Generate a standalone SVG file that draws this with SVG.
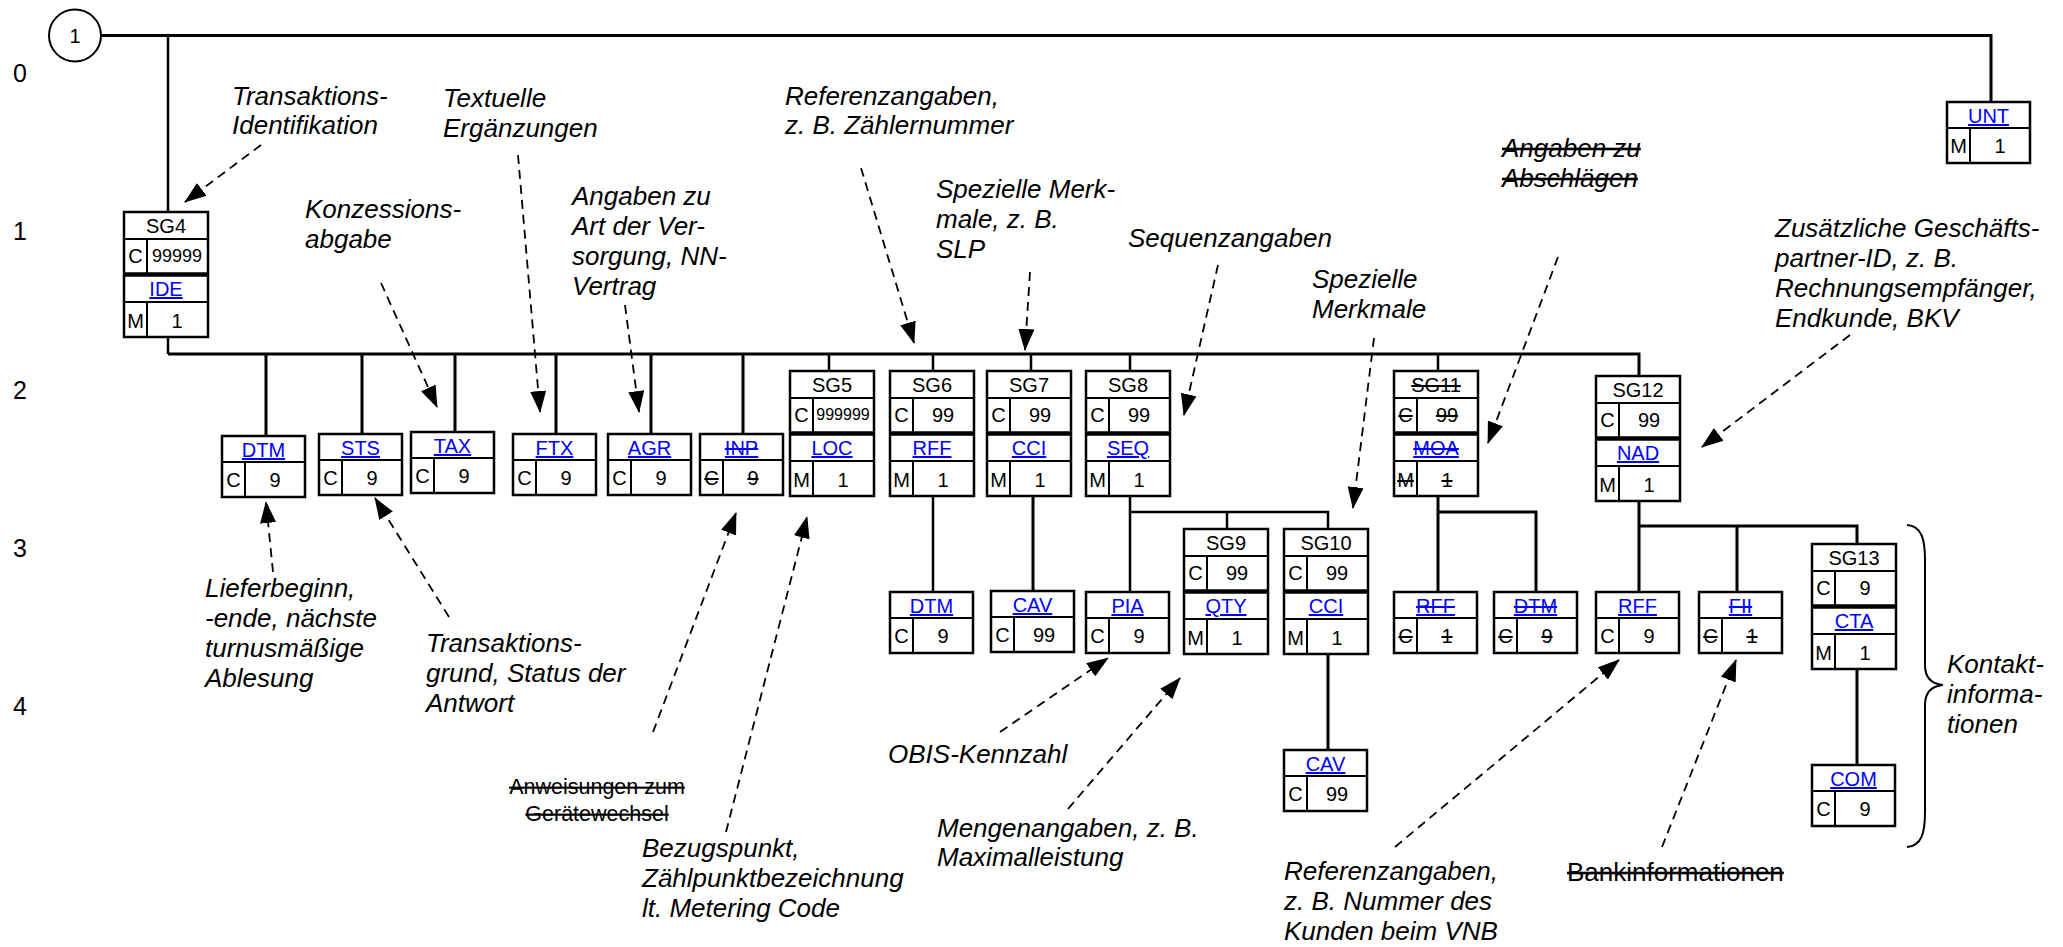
<svg xmlns="http://www.w3.org/2000/svg" xmlns:xlink="http://www.w3.org/1999/xlink" width="2063" height="947" viewBox="0 0 2063 947">
<style>
text{font-family:"Liberation Sans",Arial,sans-serif;fill:#000}
.lbl{font-size:26px;font-style:italic}
.up{font-size:26px}
.small{font-size:21.5px;text-anchor:middle}
.row{font-size:25px}
.bt{font-size:20px;text-anchor:middle}
.n18{font-size:18px}
.n16{font-size:16px}
.seg{fill:#0000ff;text-decoration:underline}
.st{text-decoration:line-through}
.segst{fill:#0000ff;text-decoration:underline line-through}
.conn{stroke:#000;stroke-width:3;fill:none}
.conn2{stroke:#000;stroke-width:2.5;fill:none}
.dash{stroke:#000;stroke-width:1.8;fill:none;stroke-dasharray:9 6}
.bx{stroke:#000;stroke-width:2.5;fill:#fff}
.bl{stroke:#000;stroke-width:2;fill:none}
.thick{stroke:#000;stroke-width:4.5;fill:none}
</style>
<defs>
<marker id="ah" markerWidth="22" markerHeight="16" refX="21" refY="8" orient="auto" markerUnits="userSpaceOnUse"><path d="M0,0 L22,8 L0,16 z" fill="#000"/></marker>
<g id="seg"><rect class="bx" x="0" y="0" width="83" height="61"/><path class="bl" d="M0,26 H83 M23,26 V61"/></g>
<g id="grp"><rect class="bx" x="0" y="0" width="84" height="125"/><path class="bl" d="M0,27 H84 M23,27 V61 M0,90 H84 M23,90 V125"/><path class="thick" d="M0,62.5 H84"/></g>
</defs>
<rect width="2063" height="947" fill="#fff"/>

<g id="connectors">
<path class="conn" d="M101,35.5 H1991 V102"/>
<path class="conn2" d="M168,36 V212"/>
<path class="conn2" d="M168,337 V354"/>
<path class="conn" d="M168,354 H1639 V376"/>
<path class="conn" d="M266,354 V436 M362,354 V434 M455,354 V432 M556,354 V434 M651,354 V434 M743,354 V434"/>
<path class="conn2" d="M829,354 V371 M933,354 V371 M1031,354 V371 M1130,354 V371 M1438,354 V371"/>
<path class="conn2" d="M933,496 V592"/>
<path class="conn" d="M1033,496 V591"/>
<path class="conn2" d="M1130,496 V592 M1130,512 H1328 V529 M1227,512 V529"/>
<path class="conn" d="M1328,654 V750"/>
<path class="conn" d="M1438,496 V592 M1438,512 H1536 V592"/>
<path class="conn" d="M1639,501 V592 M1639,526 H1857 V544 M1737,526 V592"/>
<path class="conn" d="M1857,669 V765"/>
<path d="M1907,525 C1922,526 1925,540 1925,560 V665 C1925,678 1932,684 1943,685 C1932,686 1925,692 1925,705 V812 C1925,832 1922,846 1907,847" stroke="#000" stroke-width="2" fill="none"/>
<g id="arrows">
<path class="dash" marker-end="url(#ah)" d="M261,145 L185,202"/>
<path class="dash" marker-end="url(#ah)" d="M381,283 L437,407"/>
<path class="dash" marker-end="url(#ah)" d="M518,155 L540,412"/>
<path class="dash" marker-end="url(#ah)" d="M625,305 L639,412"/>
<path class="dash" marker-end="url(#ah)" d="M861,168 L914,343"/>
<path class="dash" marker-end="url(#ah)" d="M1030,272 L1025,350"/>
<path class="dash" marker-end="url(#ah)" d="M1218,265 L1184,415"/>
<path class="dash" marker-end="url(#ah)" d="M1374,338 L1353,508"/>
<path class="dash" marker-end="url(#ah)" d="M1558,257 L1488,443"/>
<path class="dash" marker-end="url(#ah)" d="M1850,335 L1702,447"/>
<path class="dash" marker-end="url(#ah)" d="M273,572 L266,502"/>
<path class="dash" marker-end="url(#ah)" d="M449,617 L375,498"/>
<path class="dash" marker-end="url(#ah)" d="M653,732 L736,513"/>
<path class="dash" marker-end="url(#ah)" d="M726,832 L807,517"/>
<path class="dash" marker-end="url(#ah)" d="M1000,732 L1108,658"/>
<path class="dash" marker-end="url(#ah)" d="M1068,809 L1180,678"/>
<path class="dash" marker-end="url(#ah)" d="M1395,847 L1619,660"/>
<path class="dash" marker-end="url(#ah)" d="M1662,847 L1736,660"/>
</g>
</g>

<g id="rows">
<text class="row" x="13" y="82">0</text>
<text class="row" x="13" y="240">1</text>
<text class="row" x="13" y="399">2</text>
<text class="row" x="13" y="557">3</text>
<text class="row" x="13" y="715">4</text>
</g>

<g id="start"><circle cx="75" cy="35.5" r="26" fill="#fff" stroke="#000" stroke-width="2"/><text class="bt" x="75" y="43">1</text></g>

<g id="UNT" transform="translate(1947,102)"><use xlink:href="#seg"/><text class="bt seg" x="41.5" y="21">UNT</text><text class="bt" x="11.5" y="51">M</text><text class="bt" x="53" y="51">1</text></g>

<g id="SG4" transform="translate(124,212)"><use xlink:href="#grp"/><text class="bt" x="42" y="21">SG4</text><text class="bt" x="11.5" y="51">C</text><text class="bt n18" x="53" y="50">99999</text><text class="bt seg" x="42" y="84">IDE</text><text class="bt" x="11.5" y="116">M</text><text class="bt" x="53" y="116">1</text></g>

<g id="DTM1" transform="translate(222,436)"><use xlink:href="#seg"/><text class="bt seg" x="41.5" y="21">DTM</text><text class="bt" x="11.5" y="51">C</text><text class="bt" x="53" y="51">9</text></g>
<g id="STS" transform="translate(319,434)"><use xlink:href="#seg"/><text class="bt seg" x="41.5" y="21">STS</text><text class="bt" x="11.5" y="51">C</text><text class="bt" x="53" y="51">9</text></g>
<g id="TAX" transform="translate(411,432)"><use xlink:href="#seg"/><text class="bt seg" x="41.5" y="21">TAX</text><text class="bt" x="11.5" y="51">C</text><text class="bt" x="53" y="51">9</text></g>
<g id="FTX" transform="translate(513,434)"><use xlink:href="#seg"/><text class="bt seg" x="41.5" y="21">FTX</text><text class="bt" x="11.5" y="51">C</text><text class="bt" x="53" y="51">9</text></g>
<g id="AGR" transform="translate(608,434)"><use xlink:href="#seg"/><text class="bt seg" x="41.5" y="21">AGR</text><text class="bt" x="11.5" y="51">C</text><text class="bt" x="53" y="51">9</text></g>
<g id="INP" transform="translate(700,434)"><use xlink:href="#seg"/><text class="bt segst" x="41.5" y="21">INP</text><text class="bt st" x="11.5" y="51">C</text><text class="bt st" x="53" y="51">9</text></g>

<g id="SG5" transform="translate(790,371)"><use xlink:href="#grp"/><text class="bt" x="42" y="21">SG5</text><text class="bt" x="11.5" y="51">C</text><text class="bt n16" x="53" y="49">999999</text><text class="bt seg" x="42" y="84">LOC</text><text class="bt" x="11.5" y="116">M</text><text class="bt" x="53" y="116">1</text></g>
<g id="SG6" transform="translate(890,371)"><use xlink:href="#grp"/><text class="bt" x="42" y="21">SG6</text><text class="bt" x="11.5" y="51">C</text><text class="bt" x="53" y="51">99</text><text class="bt seg" x="42" y="84">RFF</text><text class="bt" x="11.5" y="116">M</text><text class="bt" x="53" y="116">1</text></g>
<g id="SG7" transform="translate(987,371)"><use xlink:href="#grp"/><text class="bt" x="42" y="21">SG7</text><text class="bt" x="11.5" y="51">C</text><text class="bt" x="53" y="51">99</text><text class="bt seg" x="42" y="84">CCI</text><text class="bt" x="11.5" y="116">M</text><text class="bt" x="53" y="116">1</text></g>
<g id="SG8" transform="translate(1086,371)"><use xlink:href="#grp"/><text class="bt" x="42" y="21">SG8</text><text class="bt" x="11.5" y="51">C</text><text class="bt" x="53" y="51">99</text><text class="bt seg" x="42" y="84">SEQ</text><text class="bt" x="11.5" y="116">M</text><text class="bt" x="53" y="116">1</text></g>
<g id="SG11" transform="translate(1394,371)"><use xlink:href="#grp"/><text class="bt st" x="42" y="21">SG11</text><text class="bt st" x="11.5" y="51">C</text><text class="bt st" x="53" y="51">99</text><text class="bt segst" x="42" y="84">MOA</text><text class="bt st" x="11.5" y="116">M</text><text class="bt st" x="53" y="116">1</text></g>
<g id="SG12" transform="translate(1596,376)"><use xlink:href="#grp"/><text class="bt" x="42" y="21">SG12</text><text class="bt" x="11.5" y="51">C</text><text class="bt" x="53" y="51">99</text><text class="bt seg" x="42" y="84">NAD</text><text class="bt" x="11.5" y="116">M</text><text class="bt" x="53" y="116">1</text></g>

<g id="DTM2" transform="translate(890,592)"><use xlink:href="#seg"/><text class="bt seg" x="41.5" y="21">DTM</text><text class="bt" x="11.5" y="51">C</text><text class="bt" x="53" y="51">9</text></g>
<g id="CAV1" transform="translate(991,591)"><use xlink:href="#seg"/><text class="bt seg" x="41.5" y="21">CAV</text><text class="bt" x="11.5" y="51">C</text><text class="bt" x="53" y="51">99</text></g>
<g id="PIA" transform="translate(1086,592)"><use xlink:href="#seg"/><text class="bt seg" x="41.5" y="21">PIA</text><text class="bt" x="11.5" y="51">C</text><text class="bt" x="53" y="51">9</text></g>
<g id="SG9" transform="translate(1184,529)"><use xlink:href="#grp"/><text class="bt" x="42" y="21">SG9</text><text class="bt" x="11.5" y="51">C</text><text class="bt" x="53" y="51">99</text><text class="bt seg" x="42" y="84">QTY</text><text class="bt" x="11.5" y="116">M</text><text class="bt" x="53" y="116">1</text></g>
<g id="SG10" transform="translate(1284,529)"><use xlink:href="#grp"/><text class="bt" x="42" y="21">SG10</text><text class="bt" x="11.5" y="51">C</text><text class="bt" x="53" y="51">99</text><text class="bt seg" x="42" y="84">CCI</text><text class="bt" x="11.5" y="116">M</text><text class="bt" x="53" y="116">1</text></g>
<g id="CAV2" transform="translate(1284,750)"><use xlink:href="#seg"/><text class="bt seg" x="41.5" y="21">CAV</text><text class="bt" x="11.5" y="51">C</text><text class="bt" x="53" y="51">99</text></g>
<g id="RFF11" transform="translate(1394,592)"><use xlink:href="#seg"/><text class="bt segst" x="41.5" y="21">RFF</text><text class="bt st" x="11.5" y="51">C</text><text class="bt st" x="53" y="51">1</text></g>
<g id="DTM11" transform="translate(1494,592)"><use xlink:href="#seg"/><text class="bt segst" x="41.5" y="21">DTM</text><text class="bt st" x="11.5" y="51">C</text><text class="bt st" x="53" y="51">9</text></g>
<g id="RFF12" transform="translate(1596,592)"><use xlink:href="#seg"/><text class="bt seg" x="41.5" y="21">RFF</text><text class="bt" x="11.5" y="51">C</text><text class="bt" x="53" y="51">9</text></g>
<g id="FII" transform="translate(1699,592)"><use xlink:href="#seg"/><text class="bt segst" x="41.5" y="21">FII</text><text class="bt st" x="11.5" y="51">C</text><text class="bt st" x="53" y="51">1</text></g>
<g id="SG13" transform="translate(1812,544)"><use xlink:href="#grp"/><text class="bt" x="42" y="21">SG13</text><text class="bt" x="11.5" y="51">C</text><text class="bt" x="53" y="51">9</text><text class="bt seg" x="42" y="84">CTA</text><text class="bt" x="11.5" y="116">M</text><text class="bt" x="53" y="116">1</text></g>
<g id="COM" transform="translate(1812,765)"><use xlink:href="#seg"/><text class="bt seg" x="41.5" y="21">COM</text><text class="bt" x="11.5" y="51">C</text><text class="bt" x="53" y="51">9</text></g>

<g id="labels">
<text class="lbl" x="232" y="105">Transaktions-<tspan x="232" dy="29">Identifikation</tspan></text>
<text class="lbl" x="443" y="107">Textuelle<tspan x="443" dy="30">Ergänzungen</tspan></text>
<text class="lbl" x="305" y="218">Konzessions-<tspan x="305" dy="30">abgabe</tspan></text>
<text class="lbl" x="572" y="205">Angaben zu<tspan x="572" dy="30">Art der Ver-</tspan><tspan x="572" dy="30">sorgung, NN-</tspan><tspan x="572" dy="30">Vertrag</tspan></text>
<text class="lbl" x="785" y="105">Referenzangaben,<tspan x="785" dy="29">z. B. Zählernummer</tspan></text>
<text class="lbl" x="936" y="198">Spezielle Merk-<tspan x="936" dy="30">male, z. B.</tspan><tspan x="936" dy="30">SLP</tspan></text>
<text class="lbl" x="1128" y="247">Sequenzangaben</text>
<text class="lbl" x="1312" y="288">Spezielle<tspan x="1312" dy="30">Merkmale</tspan></text>
<text class="lbl st" x="1502" y="157">Angaben zu<tspan x="1502" dy="30">Abschlägen</tspan></text>
<text class="lbl" x="1775" y="237">Zusätzliche Geschäfts-<tspan x="1775" dy="30">partner-ID, z. B.</tspan><tspan x="1775" dy="30">Rechnungsempfänger,</tspan><tspan x="1775" dy="30">Endkunde, BKV</tspan></text>
<text class="lbl" x="205" y="597">Lieferbeginn,<tspan x="205" dy="30">-ende, nächste</tspan><tspan x="205" dy="30">turnusmäßige</tspan><tspan x="205" dy="30">Ablesung</tspan></text>
<text class="lbl" x="426" y="652">Transaktions-<tspan x="426" dy="30">grund, Status der</tspan><tspan x="426" dy="30">Antwort</tspan></text>
<text class="small st" x="597" y="794">Anweisungen zum<tspan x="597" dy="27">Gerätewechsel</tspan></text>
<text class="lbl" x="642" y="857">Bezugspunkt,<tspan x="642" dy="30">Zählpunktbezeichnung</tspan><tspan x="642" dy="30">lt. Metering Code</tspan></text>
<text class="lbl" x="888" y="763">OBIS-Kennzahl</text>
<text class="lbl" x="937" y="837">Mengenangaben, z. B.<tspan x="937" dy="29">Maximalleistung</tspan></text>
<text class="lbl" x="1284" y="880">Referenzangaben,<tspan x="1284" dy="30">z. B. Nummer des</tspan><tspan x="1284" dy="30">Kunden beim VNB</tspan></text>
<text class="up st" x="1567" y="881">Bankinformationen</text>
<text class="lbl" x="1947" y="673">Kontakt-<tspan x="1947" dy="30">informa-</tspan><tspan x="1947" dy="30">tionen</tspan></text>
</g>
</svg>
